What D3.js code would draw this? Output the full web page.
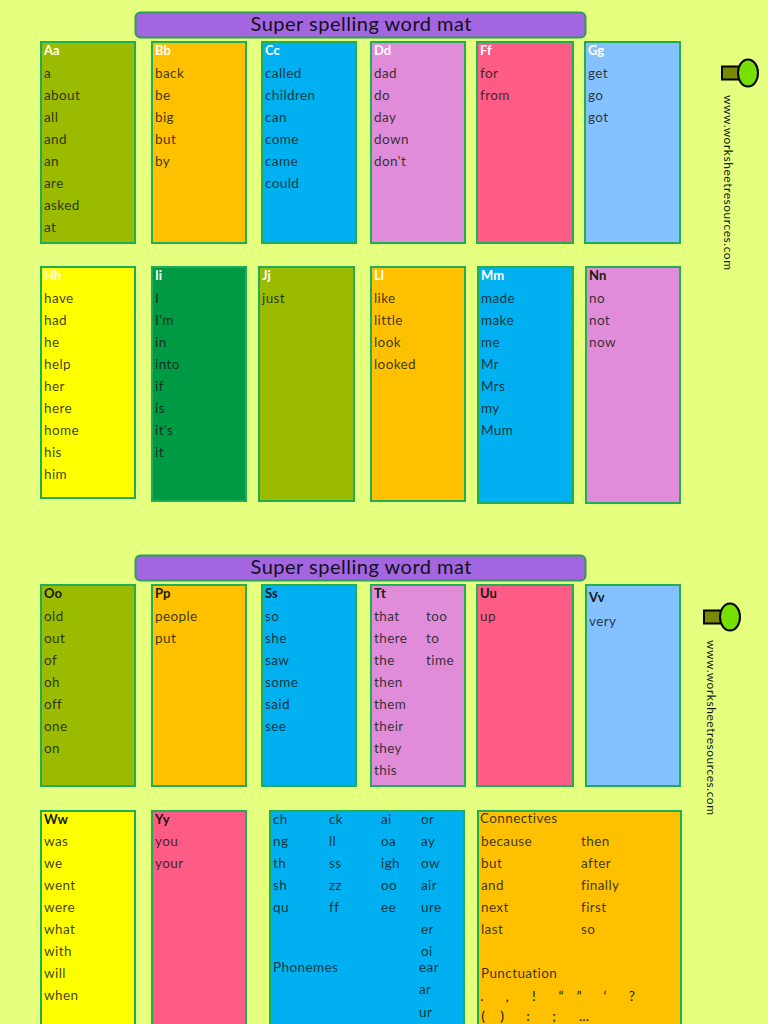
<!DOCTYPE html>
<html>
<head>
<meta charset="utf-8">
<script src="https://d3js.org/d3.v7.min.js"></script>
<style>
  html, body { margin: 0; padding: 0; background: #e5ff7f; }
  svg { display: block; }
  text { font-family: "Comic Sans MS", Lato, "Open Sans", sans-serif; }
</style>
</head>
<body>
<div id="mat"></div>
<script>
const titleText = "Super spelling word mat";
const siteText = "www.worksheetresources.com";

// letters and word lists, one list per panel
const row1Letters = ["Aa", "Bb", "Cc", "Dd", "Ff", "Gg"];
const row1Words = [
    ["a", "about", "all", "and", "an", "are", "asked", "at"],
    ["back", "be", "big", "but", "by"],
    ["called", "children", "can", "come", "came", "could"],
    ["dad", "do", "day", "down", "don't"],
    ["for", "from"],
    ["get", "go", "got"]
];
const row2Letters = ["Hh", "Ii", "Jj", "Ll", "Mm", "Nn"];
const row2Words = [
    ["have", "had", "he", "help", "her", "here", "home", "his", "him"],
    ["I", "I'm", "in", "into", "if", "is", "it's", "it"],
    ["just"],
    ["like", "little", "look", "looked"],
    ["made", "make", "me", "Mr", "Mrs", "my", "Mum"],
    ["no", "not", "now"]
];
const row3Letters = ["Oo", "Pp", "Ss", "Tt", "Uu", "Vv"];
const row3Words = [
    ["old", "out", "of", "oh", "off", "one", "on"],
    ["people", "put"],
    ["so", "she", "saw", "some", "said", "see"],
    ["that", "there", "the", "then", "them", "their", "they", "this"],
    ["up"],
    ["very"]
];
const tExtraWords = ["too", "to", "time"];
const row4Letters = ["Ww", "Yy"];
const row4Words = [
    ["was", "we", "went", "were", "what", "with", "will", "when"],
    ["you", "your"]
];

const phonemesLabel = "Phonemes";
const phonemeCol1 = ["ch", "ng", "th", "sh", "qu"];
const phonemeCol2 = ["ck", "ll", "ss", "zz", "ff"];
const phonemeCol3 = ["ai", "oa", "igh", "oo", "ee"];
const phonemeCol4 = ["or", "ay", "ow", "air", "ure", "er", "oi"];
const phonemeCol4Low = ["ear", "ar", "ur"];

const connectivesLabel = "Connectives";
const connectivesLeft = ["because", "but", "and", "next", "last"];
const connectivesRight = ["then", "after", "finally", "first", "so"];
const punctuationLabel = "Punctuation";
const punctuationLine1 = [".", ",", "!", "\u201C", "\u201D", "\u2018", "?"];
const punctuationLine2 = ["(", ")", ":", ";", "..."];

// fill colours per row
const row1Fills = ["#9bbb00", "#ffc000", "#00b0f0", "#e08cd8", "#ff5c85", "#85c1ff"];
const row2Fills = ["#ffff00", "#009a44", "#9bbb00", "#ffc000", "#00b0f0", "#e08cd8"];
const row3Fills = ["#9bbb00", "#ffc000", "#00b0f0", "#e08cd8", "#ff5c85", "#85c1ff"];
const row4Fills = ["#ffff00", "#ff5c85"];

// layout: panel edges, not data
const width = 768, height = 1024;
const row1Cols = [[40, 136], [151, 247], [261, 357], [370, 466], [476, 574], [584, 681]];
const row2Cols = [[40, 136], [151, 247], [258, 355], [370, 466], [477, 574], [585, 681]];
const row3Cols = [[40, 136], [151, 247], [261, 357], [370, 466], [476, 574], [585, 681]];
const row2Bottoms = [499, 502, 502, 502, 504, 504];
const pitch = 22;
const ink = "#141a14";

const svg = d3.select("#mat").append("svg")
    .attr("width", width)
    .attr("height", height)
    .attr("viewBox", "0 0 " + width + " " + height);

svg.append("rect")
    .attr("width", width)
    .attr("height", height)
    .attr("fill", "#e5ff7f");

function makePanels(letters, words, fills, cols, top, bottoms, headColour, firstLine) {
    return letters.map((letter, i) => ({
        letter: letter,
        words: words[i],
        fill: fills[i],
        x0: cols[i][0],
        x1: cols[i][1],
        y0: top,
        y1: Array.isArray(bottoms) ? bottoms[i] : bottoms,
        head: headColour(letter),
        headLine: letter === "Vv" ? 13 : 9,
        firstLine: letter === "Vv" ? 37 : firstLine
    }));
}

const row1Panels = makePanels(row1Letters, row1Words, row1Fills, row1Cols, 41, 244, () => "#ffffff", 32);
const row2Panels = makePanels(row2Letters, row2Words, row2Fills, row2Cols, 266, row2Bottoms,
    l => l === "Nn" ? ink : "#ffffff", 32);
const row3Panels = makePanels(row3Letters, row3Words, row3Fills, row3Cols, 584, 787, () => ink, 32);
const row4Panels = makePanels(row4Letters, row4Words, row4Fills, row3Cols, 810, 1040, () => ink, 31);
const panels = [...row1Panels, ...row2Panels, ...row3Panels, ...row4Panels];

// the two big panels on the last row
const bigPanels = [
    {x0: 269, x1: 465, y0: 810, y1: 1040, fill: "#00b0f0"},
    {x0: 477, x1: 682, y0: 810, y1: 1040, fill: "#ffc000"}
];

svg.selectAll("rect.panel")
    .data([...panels, ...bigPanels])
    .enter()
    .append("rect")
    .attr("class", "panel")
    .attr("x", d => d.x0 + 1)
    .attr("y", d => d.y0 + 1)
    .attr("width", d => d.x1 - d.x0 - 2)
    .attr("height", d => d.y1 - d.y0 - 2)
    .attr("fill", d => d.fill)
    .attr("stroke", "#1fae55")
    .attr("stroke-width", 2);

svg.selectAll("text.head")
    .data(panels)
    .enter()
    .append("text")
    .attr("class", "head")
    .attr("x", d => d.x0 + 4)
    .attr("y", d => d.y0 + d.headLine)
    .attr("dy", "0.35em")
    .attr("fill", d => d.head)
    .attr("font-size", 13)
    .attr("font-weight", 700)
    .text(d => d.letter);

// word lists run down from the first line under the panel top
const wordCells = panels.flatMap(p => p.words.map((w, i) => ({
    word: w,
    x: p.x0 + 4,
    y: p.y0 + p.firstLine + i * pitch
})));
const tPanel = row3Panels[3];
const tExtraCells = tExtraWords.map((w, i) => ({word: w, x: 426, y: tPanel.y0 + tPanel.firstLine + i * pitch}));

// phoneme and connective columns
const lastRowY = i => 819 + i * pitch;
function columnCells(list, x, startY) {
    return list.map((w, i) => ({word: w, x: x, y: startY(i)}));
}
const lowY = d3.scaleLinear().domain([0, 1]).range([967, 989.5]);
const phonemeCells = [
    ...columnCells(phonemeCol1, 273, lastRowY),
    ...columnCells(phonemeCol2, 329, lastRowY),
    ...columnCells(phonemeCol3, 381, lastRowY),
    ...columnCells(phonemeCol4, 421, lastRowY),
    ...columnCells(phonemeCol4Low, 419, lowY),
    {word: phonemesLabel, x: 273, y: 967}
];
const connectiveCells = [
    {word: connectivesLabel, x: 480, y: 818},
    ...columnCells(connectivesLeft, 481, i => lastRowY(i + 1)),
    ...columnCells(connectivesRight, 581, i => lastRowY(i + 1)),
    {word: punctuationLabel, x: 481, y: 973}
];

svg.selectAll("text.word")
    .data([...wordCells, ...tExtraCells, ...phonemeCells, ...connectiveCells])
    .enter()
    .append("text")
    .attr("class", "word")
    .attr("x", d => d.x)
    .attr("y", d => d.y)
    .attr("dy", "0.35em")
    .attr("fill", ink)
    .attr("fill-opacity", 0.85)
    .attr("font-size", 13.5)
    .attr("letter-spacing", 0.4)
    .text(d => d.word);

// punctuation marks sit unevenly across the panel
const punct1X = d3.scaleOrdinal(punctuationLine1, [482, 507, 534, 561, 579, 605, 632]);
const punct2X = d3.scaleOrdinal(punctuationLine2, [483, 502, 528, 554, 584]);
svg.selectAll("text.p1")
    .data(punctuationLine1)
    .enter()
    .append("text")
    .attr("x", d => punct1X(d))
    .attr("y", 1001)
    .attr("text-anchor", "middle")
    .attr("fill", ink)
    .attr("font-size", 14)
    .text(d => d);
svg.selectAll("text.p2")
    .data(punctuationLine2)
    .enter()
    .append("text")
    .attr("x", d => punct2X(d))
    .attr("y", 1021)
    .attr("text-anchor", "middle")
    .attr("fill", ink)
    .attr("font-size", 14)
    .text(d => d);

// title bars
const banners = svg.selectAll("g.banner")
    .data([12, 555])
    .enter()
    .append("g")
    .attr("class", "banner")
    .attr("transform", d => "translate(0," + d + ")");
banners.append("rect")
    .attr("x", 135.5)
    .attr("y", 0.5)
    .attr("width", 450)
    .attr("height", 25)
    .attr("rx", 5)
    .attr("fill", "#a366e0")
    .attr("stroke", "#2e9b5e")
    .attr("stroke-width", 2);
banners.append("text")
    .attr("x", 361)
    .attr("y", 12)
    .attr("dy", "0.35em")
    .attr("text-anchor", "middle")
    .attr("fill", "#12101c")
    .attr("font-size", 20)
    .attr("textLength", 221)
    .attr("lengthAdjust", "spacing")
    .text(titleText);

// site logos with the url running down the page
const logos = svg.selectAll("g.logo")
    .data([{x: 722, y: 73, textX: 724, textY: 95}, {x: 704, y: 617, textX: 707, textY: 640}])
    .enter()
    .append("g")
    .attr("class", "logo");
logos.append("rect")
    .attr("x", d => d.x)
    .attr("y", d => d.y - 6.5)
    .attr("width", 17)
    .attr("height", 13)
    .attr("fill", "#7a8a00")
    .attr("stroke", "#000")
    .attr("stroke-width", 2);
logos.append("ellipse")
    .attr("cx", d => d.x + 26)
    .attr("cy", d => d.y)
    .attr("rx", 10)
    .attr("ry", 13.5)
    .attr("fill", "#78e000")
    .attr("stroke", "#000")
    .attr("stroke-width", 2);
logos.append("text")
    .attr("transform", d => "translate(" + d.textX + "," + d.textY + ") rotate(90)")
    .attr("fill", ink)
    .attr("font-size", 12)
    .attr("textLength", 175)
    .attr("lengthAdjust", "spacing")
    .text(siteText);
</script>
</body>
</html>
